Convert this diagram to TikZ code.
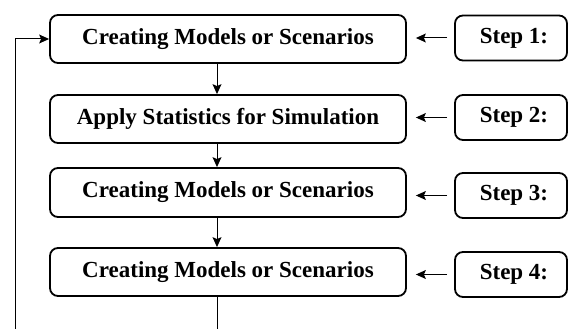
\documentclass[tikz,border=0pt]{standalone}
\usepackage{fontspec}
\setmainfont{Liberation Serif}
\usetikzlibrary{arrows.meta}
\begin{document}
\begin{tikzpicture}[x=1pt,y=-1pt,
  mainbox/.style={draw=black,line width=1.8pt,rounded corners=8pt,minimum width=356pt,minimum height=48pt,inner sep=0pt,font=\fontsize{23}{27}\selectfont\bfseries},
  stepbox/.style={draw=black,line width=1.8pt,rounded corners=8pt,minimum width=112pt,minimum height=45pt,inner sep=0pt,font=\fontsize{23}{27}\selectfont\bfseries},
  conn/.style={line width=1pt,-{Stealth[length=10pt,width=9pt,inset=2pt]}}]
\useasboundingbox[fill=white] (0,0) rectangle (568,329);
\node[mainbox] (b1) at (228,39) {Creating Models or Scenarios};
\node[mainbox] (b2) at (228,119) {Apply Statistics for Simulation};
\node[mainbox,minimum height=49pt] (b3) at (228,192.5) {Creating Models or Scenarios};
\node[mainbox] (b4) at (228,272) {Creating Models or Scenarios};
\node[stepbox] (s1) at (511,38) {\hspace*{6pt}Step 1:};
\node[stepbox] (s2) at (511,117.5) {\hspace*{6pt}Step 2:};
\node[stepbox] (s3) at (511,195.5) {\hspace*{6pt}Step 3:};
\node[stepbox] (s4) at (511,274.5) {\hspace*{6pt}Step 4:};
\coordinate (vx) at (217,0);
\coordinate (bl) at (15,345);
\draw[conn] (b1.south -| vx) -- (b2.north -| vx);
\draw[conn] (b2.south -| vx) -- (b3.north -| vx);
\draw[conn] (b3.south -| vx) -- (b4.north -| vx);
\foreach \i in {1,2,3,4}{
  \draw[conn,shorten <=7pt,shorten >=9pt] (s\i.west) -- (b\i.east |- s\i.west);
}
\draw[conn] (b4.south -| vx) |- (bl) |- (b1.west);
\end{tikzpicture}
\end{document}
